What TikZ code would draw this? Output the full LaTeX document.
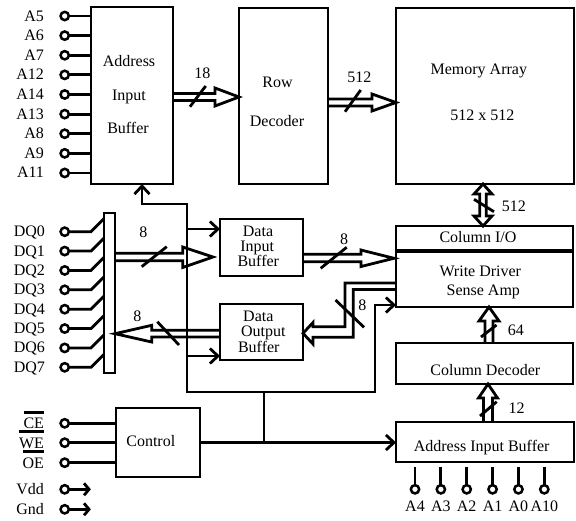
\documentclass[tikz,border=0pt]{standalone}
\usepackage{fontspec}
\setmainfont{Liberation Serif}
\usetikzlibrary{arrows.meta,calc}
\newcommand\olbar[1]{\leavevmode\setbox0\hbox{#1}\rlap{\rule[15.3pt]{\wd0}{2.7pt}}\box0}
\tikzset{
  box/.style={draw, line width=2.8pt, inner sep=0pt, outer sep=0pt},
  lbl/.style={font=\fontsize{16}{16}\selectfont, inner sep=0pt, outer sep=0pt, anchor=base},
  lble/.style={lbl, anchor=base east},
  wire/.style={line width=2.8pt},
  arr/.style={wire, -{Straight Barb[length=8pt,width=15pt]}},
  arrboth/.style={wire, {Straight Barb[length=8pt,width=15pt]}-{Straight Barb[length=8pt,width=15pt]}},
  smallarr/.style={wire, -{Straight Barb[length=5pt,width=12pt]}},
  pin/.style={circle, draw, line width=2.5pt, minimum size=8.3pt, inner sep=0pt, outer sep=0pt},
  hol/.style={line width=2.8pt, line join=miter},
  slash/.style={line width=2.8pt},
}
\begin{document}
\begin{tikzpicture}[x=1pt,y=-1pt]
\useasboundingbox (0,0) rectangle (576,520);

% boxes
\node[box, minimum width=82pt, minimum height=177pt] (aib) at (132,95.5) {};
\node[box, minimum width=89pt, minimum height=176pt] (rowdec) at (283.5,96) {};
\node[box, minimum width=178pt, minimum height=176pt] (mem) at (485,96) {};
\node[box, minimum width=177pt, minimum height=24pt] (colio) at (484.5,238) {};
\node[box, minimum width=177pt, minimum height=55pt] (wd) at (484.5,279.5) {};
\node[box, minimum width=177pt, minimum height=41pt] (coldec) at (484.5,363.5) {};
\node[box, minimum width=178pt, minimum height=40pt] (aib2) at (485,442) {};
\node[box, minimum width=84pt, minimum height=69pt] (ctrl) at (158,442.5) {};
\node[box, minimum width=83pt, minimum height=57pt] (dib) at (261.5,247.5) {};
\node[box, minimum width=83pt, minimum height=56pt] (dob) at (261.5,332) {};
\node[box, minimum width=11pt, minimum height=160pt] (bar) at (109.5,293) {};

% box texts
\node[lbl] (t-aib1) at (129,66.7) {Address};
\node[lbl] (t-aib2) at (129,100) {Input};
\node[lbl] (t-aib3) at (128,133) {Buffer};
\node[lbl] (t-row1) at (277.5,87.3) {Row};
\node[lbl] (t-row2) at (277,126) {Decoder};
\node[lbl] (t-mem1) at (478.8,74) {Memory Array};
\node[lbl] (t-mem2) at (482.3,120.7) {512 x 512};
\node[lbl] (t-colio) at (478,242.7) {Column I/O};
\node[lbl] (t-wd1) at (480.3,276.7) {Write Driver};
\node[lbl] (t-wd2) at (483.3,295) {Sense Amp};
\node[lbl] (t-cd) at (485.3,375) {Column Decoder};
\node[lbl] (t-aibb) at (481.7,451.7) {Address Input Buffer};
\node[lbl] (t-ctrl) at (150.8,446) {Control};
\node[lbl] (t-dib1) at (258,236.7) {Data};
\node[lbl] (t-dib2) at (257.3,251.5) {Input};
\node[lbl] (t-dib3) at (258.3,266.7) {Buffer};
\node[lbl] (t-dob1) at (258.3,321.7) {Data};
\node[lbl] (t-dob2) at (263.3,336.7) {Output};
\node[lbl] (t-dob3) at (258.8,352.3) {Buffer};

% bus width labels
\node[lbl] (n18) at (202.3,78) {18};
\node[lbl] (n512a) at (359.3,82.7) {512};
\node[lbl] (n512b) at (513.8,211.7) {512};
\node[lbl] (n64) at (515.8,335.7) {64};
\node[lbl] (n12) at (516.7,413.3) {12};
\node[lbl] (n8a) at (143.3,237.3) {8};
\node[lbl] (n8b) at (344,244) {8};
\node[lbl] (n8c) at (137.3,321.7) {8};
\node[lbl] (n8d) at (362.3,310.7) {8};

% left address pins
\foreach \n [count=\i from 0] in {A5,A6,A7,A12,A14,A13,A8,A9,A11}{
  \pgfmathsetmacro\yy{16+19.62*\i}
  \node[pin] (p\n) at (64.7,\yy) {};
  \draw[wire] (p\n.east) -- (p\n.east -| aib.west);
  \node[lble] at (44,\yy+5) {\n};
}

% DQ pins
\foreach \n [count=\i from 0] in {DQ0,DQ1,DQ2,DQ3,DQ4,DQ5,DQ6,DQ7}{
  \pgfmathsetmacro\yy{231.7+19.37*\i}
  \node[pin] (p\n) at (64.7,\yy) {};
  \draw[wire] (p\n.east) -- (91,\yy) -- (bar.west |- 0,\yy-13);
  \node[lble] at (45,\yy+5) {\n};
}

% control pins
\node[pin] (pce) at (64.7,423.3) {};
\node[pin] (pwe) at (64.7,442.7) {};
\node[pin] (poe) at (64.7,462.7) {};
\draw[wire] (pce.east) -- (pce.east -| ctrl.west);
\draw[wire] (pwe.east) -- (pwe.east -| ctrl.west);
\draw[wire] (poe.east) -- (poe.east -| ctrl.west);
\node[lble] at (44,428.8) {\olbar{CE}};
\node[lble] at (44,448.2) {\olbar{WE}};
\node[lble] at (44,468.2) {\olbar{OE}};

% power pins
\node[pin] (pvdd) at (64.7,489.3) {};
\node[pin] (pgnd) at (64.7,509.3) {};
\draw[smallarr] (pvdd.east) -- ++(22,0);
\draw[smallarr] (pgnd.east) -- ++(22,0);
\node[lble] at (44,494.8) {Vdd};
\node[lble] at (44,514.8) {Gnd};

% bottom address pins
\foreach \n [count=\i from 0] in {A4,A3,A2,A1,A0,A10}{
  \pgfmathsetmacro\xx{415+25.86*\i}
  \node[pin] (p\n) at (\xx,489.3) {};
  \draw[wire] (p\n.north) -- (\xx,467);
  \node[lbl] at (\xx,511.7) {\n};
}

% hollow bus arrows
\draw[hol] (aib.east |- 0,93.5) -- (215,93.5) -- (215,88) -- (rowdec.west |- 0,97) -- (215,106) -- (215,100.5) -- (aib.east |- 0,100.5);
\draw[slash] (190,106.7) -- (205.7,86);

\draw[hol] (rowdec.east |- 0,99) -- (372,99) -- (372,94) -- (mem.west |- 0,102.5) -- (372,111) -- (372,106) -- (rowdec.east |- 0,106);
\draw[slash] (345,111.7) -- (360.7,90);

\draw[hol] (483,0 |- mem.south) -- (492,194) -- (486.3,194) -- (486.3,216) -- (492,216) -- (483,0 |- colio.north) -- (474,216) -- (479.7,216) -- (479.7,194) -- (474,194) -- cycle;
\draw[slash] (474,199.3) -- (494,211.7);

\draw[hol] (485,0 |- coldec.north) -- (485,321) -- (479,321) -- (489,0 |- wd.south) -- (499,321) -- (493,321) -- (493,0 |- coldec.north);
\draw[slash] (481,337) -- (496.5,325);

\draw[hol] (483.5,0 |- aib2.north) -- (483.5,398) -- (478.5,398) -- (488,0 |- coldec.south) -- (497.5,398) -- (492.5,398) -- (492.5,0 |- aib2.north);
\draw[slash] (480,416) -- (496.7,401.7);

\draw[hol] (bar.east |- 0,253.3) -- (182.7,253.3) -- (182.7,247) -- ($(dib.west |- 0,257)+(-7,0)$) -- (182.7,267.5) -- (182.7,260.7) -- (bar.east |- 0,260.7);
\draw[slash] (141.7,266.7) -- (166.7,246.7);

\draw[hol] (dib.east |- 0,254.3) -- (361,254.3) -- (361,250) -- ($(wd.west |- 0,258.3)+(-2,0)$) -- (361,266.5) -- (361,261.7) -- (dib.east |- 0,261.7);
\draw[slash] (320.7,268.3) -- (346.7,247.3);

\draw[hol] (dob.west |- 0,330.3) -- (151.7,330.3) -- (151.7,325.3) -- (bar.east |- 0,333.7) -- (151.7,342) -- (151.7,337) -- (dob.west |- 0,337);
\draw[slash] (157.3,321.7) -- (179,345);

\draw[hol] (wd.west |- 0,283) -| (345,326.7) -- (313,326.7) -- (313,322.5) -- (dob.east |- 0,333.3) -- (313,344) -- (313,337.3) -| (353.3,289.5) -- (wd.west |- 0,289.5);
\draw[slash] (335.5,300) -- (364,327.3);

% control wiring
\draw[arrboth] (142,0 |- aib.south) |- (187,204) -- (187,392) -| (375,305) -- (wd.west |- 0,305);
\draw[arr] (187,229) -- (dib.west |- 0,229);
\draw[arr] (187,356) -- (dob.west |- 0,356);
\draw[wire] (264,392) -- (264,0 |- ctrl.east);
\draw[arr] (ctrl.east) -- (ctrl.east -| aib2.west);
\end{tikzpicture}
\end{document}
